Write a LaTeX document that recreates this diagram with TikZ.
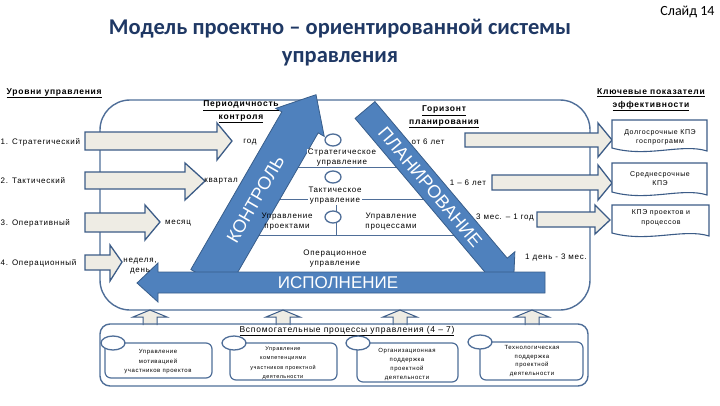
\documentclass[tikz,border=0pt]{standalone}
\usepackage{fontspec}
\setmainfont{Liberation Sans}
\newfontfamily\slidefont{Carlito}
\newfontfamily\spacedfont[LetterSpace=9]{Liberation Sans}
\usetikzlibrary{positioning, shapes.geometric}
\definecolor{titleblue}{RGB}{31, 56, 100}
\definecolor{framecol}{RGB}{79, 110, 152}
\definecolor{bandblue}{RGB}{79, 129, 189}
\definecolor{bandedge}{RGB}{56, 93, 138}
\definecolor{blockfill}{RGB}{238, 236, 228}
\definecolor{blockedge}{RGB}{60, 92, 135}

\begin{document}
\begin{tikzpicture}[
    x=1pt, y=-1pt,
    frame/.style={draw=framecol, line width=1.4pt},
    sepline/.style={draw=framecol, line width=0.7pt},
    knot/.style={draw=framecol, line width=1.3pt, fill=white},
    band/.style={draw=bandedge, fill=bandblue, line width=0.8pt},
    bandtext/.style={text=white, font=\fontsize{18}{18}\selectfont, inner sep=0pt},
    block/.style={draw=blockedge, fill=blockfill, line width=1.3pt},
    kpibox/.style={draw=blockedge, fill=white, line width=1.1pt},
    subbox/.style={draw=framecol, line width=1.2pt, rounded corners=6pt},
    label/.style={font=\spacedfont\fontsize{8}{10}\selectfont, inner sep=0.5pt, align=center},
    heading/.style={font=\spacedfont\fontsize{8.5}{12.5}\selectfont\bfseries, inner sep=0.5pt, align=center},
    small/.style={font=\spacedfont\fontsize{6}{9.5}\selectfont, inner sep=0.5pt, align=center}
]
\useasboundingbox (0,0) rectangle (720,405);

% Title
\node[font=\slidefont\fontsize{22.5}{28}\selectfont\bfseries, text=titleblue, align=center] (title) at (340,43) {Модель проектно – ориентированной системы\\управления};
\node[font=\slidefont\fontsize{14}{14}\selectfont, anchor=east] (slide) at (718,12) {Слайд 14};

% ============ MAIN FRAME ============
\draw[frame, rounded corners=30pt] (100,100) rectangle (590,310);

% Separation lines of the triangle
\draw[sepline] (274,167) -- (413,167);
\draw[sepline] (256,199) -- (440,199);
\draw[sepline] (235,235) -- (470,235);
\draw[sepline] (336,199) -- (336,235);

% Knots
\draw[knot] (333,140) ellipse [x radius=8pt, y radius=6pt];
\draw[knot] (333,177) ellipse [x radius=8pt, y radius=6pt];
\draw[knot] (333,217) ellipse [x radius=8pt, y radius=6pt];

% ============ TRIANGLE OF ARROWS ============
% Control
\begin{scope}[shift={(209,280)}, rotate=60]
  \draw[band] (0,-21) -- (182,-21) -- (182,-28) -- (214,0) -- (182,28) -- (182,21) -- (0,21) -- cycle;
  \node[bandtext, transform shape] (control) at (93,0) {КОНТРОЛЬ};
\end{scope}

% Planning
\begin{scope}[shift={(365,110)}, rotate=-49.8]
  \draw[band] (0,-13) -- (205,-13) -- (205,-23) -- (230,0) -- (205,23) -- (205,13) -- (0,13) -- cycle;
  \node[bandtext, transform shape] (planning) at (101,0) {ПЛАНИРОВАНИЕ};
\end{scope}

% Execution
\draw[band] (545,272) -- (158,272) -- (158,263) -- (137,283) -- (158,302) -- (158,293) -- (545,293) -- cycle;
\node[bandtext, font=\fontsize{17}{17}\selectfont] (execution) at (338,283) {ИСПОЛНЕНИЕ};

% Levels inside the triangle
\node[label, fill=white] (strat-mgmt) at (342,158) {Стратегическое\\управление};
\node[label, fill=white] (tact-mgmt) at (335,196) {Тактическое\\управление};
\node[label] (proj-mgmt) at (287,222) {Управление\\проектами};
\node[label] (proc-mgmt) at (391,222) {Управление\\процессами};
\node[label] (oper-mgmt) at (335,259) {Операционное\\управление};

% ============ LEFT SIDE: levels ============
\node[heading, anchor=west] (levels) at (6,93) {\underline{Уровни управления}};
\node[heading] (periodicity) at (241,112) {\underline{Периодичность}\\\underline{контроля}};

\draw[block] (85,132) -- (217,132) -- (217,123) -- (232,141) -- (217,160) -- (217,150) -- (85,150) -- cycle;
\draw[block] (85,172) -- (185,172) -- (185,163) -- (205,181) -- (185,200) -- (185,189) -- (85,189) -- cycle;
\draw[block] (85,213) -- (145,213) -- (145,205) -- (160,222) -- (145,240) -- (145,232) -- (85,232) -- cycle;
\draw[block] (85,255) -- (110,255) -- (110,245) -- (122,262) -- (110,281) -- (110,270) -- (85,270) -- cycle;

\node[label, anchor=west] (lvl1) at (0,142) {1. Стратегический};
\node[label, anchor=west] (lvl2) at (0,181) {2. Тактический};
\node[label, anchor=west] (lvl3) at (0,223) {3. Оперативный};
\node[label, anchor=west] (lvl4) at (0,263) {4. Операционный};

\node[label] (per1) at (250,142) {год};
\node[label] (per2) at (221,181) {квартал};
\node[label] (per3) at (178,223) {месяц};
\node[label] (per4) at (140,266) {неделя,\\день};

% ============ RIGHT SIDE: horizon and KPI ============
\node[heading] (horizon) at (444,117) {\underline{Горизонт}\\\underline{планирования}};
\node[heading] (kpi) at (651,100) {\underline{Ключевые показатели}\\\underline{эффективности}};

\node[label] (hor1) at (428,142) {от 6 лет};
\node[label] (hor2) at (468,183) {1 – 6 лет};
\node[label] (hor3) at (505,217) {3 мес. – 1 год};
\node[label] (hor4) at (556,257) {1 день - 3 мес.};

\draw[block] (465,133) -- (598,133) -- (598,123) -- (612,140) -- (598,157) -- (598,147) -- (465,147) -- cycle;
\draw[block] (492,175) -- (598,175) -- (598,165) -- (612,183) -- (598,200) -- (598,190) -- (492,190) -- cycle;
\draw[block] (537,212) -- (595,212) -- (595,205) -- (610,220) -- (595,234) -- (595,227) -- (537,227) -- cycle;

\draw[kpibox] (612,120) -- (707,120) -- (707,151) .. controls (682,143) and (648,158) .. (612,148) -- cycle;
\draw[kpibox] (612,163) -- (707,163) -- (707,195) .. controls (682,187) and (648,202) .. (612,192) -- cycle;
\draw[kpibox] (612,205) -- (709,205) -- (709,236) .. controls (684,228) and (648,243) .. (612,233) -- cycle;

\node[label, font=\spacedfont\fontsize{7}{9}\selectfont] (kpi1) at (660,137) {Долгосрочные КПЭ\\госпрограмм};
\node[label, font=\spacedfont\fontsize{7}{9}\selectfont] (kpi2) at (660,179) {Среднесрочные\\КПЭ};
\node[label, font=\spacedfont\fontsize{7}{10}\selectfont] (kpi3) at (661,218) {КПЭ проектов и\\процессов};

% ============ BOTTOM: supporting processes ============
\draw[block, line width=1pt] (143,325) -- (143,317) -- (133,317) -- (150,310) -- (167,317) -- (157,317) -- (157,325);
\draw[block, line width=1pt] (276,325) -- (276,317) -- (266,317) -- (283,310) -- (300,317) -- (290,317) -- (290,325);
\draw[block, line width=1pt] (393,325) -- (393,317) -- (383,317) -- (400,310) -- (417,317) -- (407,317) -- (407,325);
\draw[block, line width=1pt] (525,325) -- (525,317) -- (515,317) -- (532,310) -- (549,317) -- (539,317) -- (539,325);

\draw[frame, rounded corners=10pt] (100,324) rectangle (588,386);
\node[label, font=\spacedfont\fontsize{8.5}{10}\selectfont] (support) at (347,331) {\underline{Вспомогательные процессы управления (4 – 7)}};

\draw[subbox] (105,343) rectangle (212,378);
\draw[subbox] (230,343) rectangle (337,380);
\draw[subbox] (357,343) rectangle (458,382);
\draw[subbox] (480,342) rectangle (583,380);

\draw[knot] (113,343) ellipse [x radius=12pt, y radius=7pt];
\draw[knot] (234,343) ellipse [x radius=12pt, y radius=7pt];
\draw[knot] (358,343) ellipse [x radius=12pt, y radius=7pt];
\draw[knot] (480,342) ellipse [x radius=12pt, y radius=7pt];

\node[small] (sup1) at (158,362) {Управление\\мотивацией\\участников проектов};
\node[small, font=\spacedfont\fontsize{5.5}{9.5}\selectfont] (sup2) at (283,363) {Управление\\компетенциями\\участников проектной\\деятельности};
\node[small, font=\spacedfont\fontsize{6}{9}\selectfont] (sup3) at (407,364) {Организационная\\поддержка\\проектной\\деятельности};
\node[small, font=\spacedfont\fontsize{6}{8.8}\selectfont] (sup4) at (532,361) {Технологическая\\поддержка\\проектной\\деятельности};

\end{tikzpicture}
\end{document}
